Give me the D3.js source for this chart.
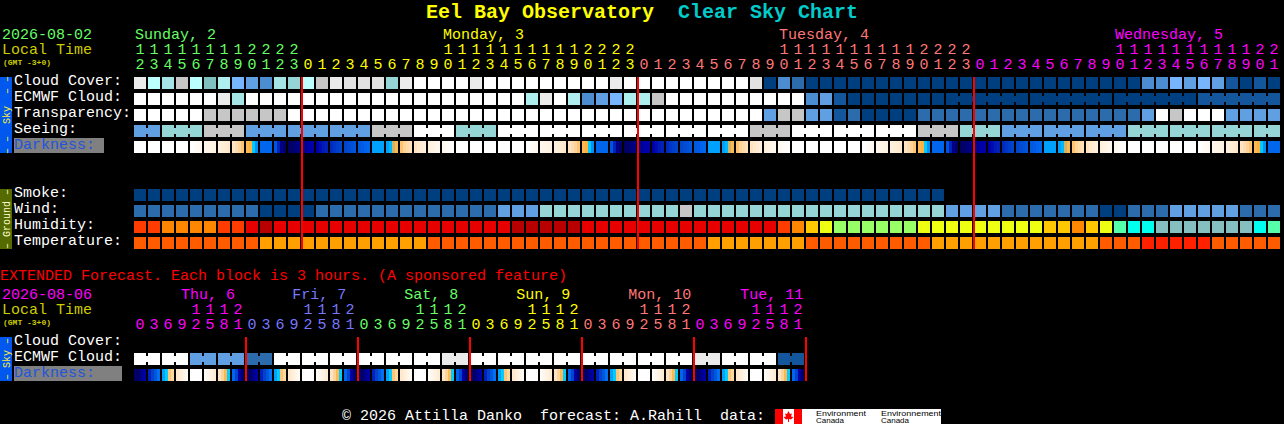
<!DOCTYPE html>
<html><head><meta charset="utf-8">
<script src="https://cdn.jsdelivr.net/npm/d3@7"></script>
<style>
html,body{margin:0;padding:0;background:#000;overflow:hidden}
svg{display:block}
text{white-space:pre;font-family:"Liberation Mono",monospace}
rect{shape-rendering:crispEdges}
</style></head><body>
<script>
// ---- forecast values (index into the colour ranges below) ----
const cloudCover=[13,10,8,11,10,6,9,5,4,3,8,7,10,11,13,12,12,12,7,13,14,14,14,14,13,14,14,14,14,14,14,14,14,14,13,14,14,14,14,14,14,14,14,14,12,0,3,2,0,0,0,0,0,0,0,0,0,0,0,0,0,0,0,0,0,0,0,0,0,0,0,0,3,3,5,4,5,4,1,0,1,0];
const ecmwfCloud=[14,14,14,14,14,14,13,8,14,14,14,14,14,14,14,14,14,14,14,14,14,14,14,14,14,14,14,14,9,13,14,9,3,4,5,9,9,11,14,14,14,14,14,14,14,14,14,14,3,4,1,0,0,0,0,0,0,0,0,0,0,0,0,0,0,0,0,0,0,0,0,0,0,0,0,0,1,1,1,1,1,1];
const transparency=[14,14,14,14,14,11,11,11,11,11,11,14,14,14,14,14,14,14,14,14,14,14,14,14,14,14,14,14,14,14,14,14,14,14,14,14,14,14,14,14,14,14,14,14,14,4,11,11,4,4,1,2,0,0,0,0,2,2,2,2,2,2,2,2,2,2,2,2,2,2,2,2,4,14,11,14,14,14,4,4,4,4];
const seeing=[4,4,7,7,7,11,11,11,4,4,4,4,4,4,4,4,4,11,11,11,14,14,14,7,7,7,14,14,14,14,14,14,14,14,14,14,14,14,14,14,14,14,14,14,11,11,11,14,14,14,14,14,14,14,14,14,11,11,11,7,7,7,4,4,4,4,4,4,4,4,4,7,7,7,7,7,7,7,7,7,7,7];
const smoke=[0,0,0,0,0,0,0,0,0,0,0,0,0,0,0,0,0,0,0,0,0,0,0,0,0,0,0,0,0,0,0,0,0,0,0,0,0,0,0,0,0,0,0,0,0,0,0,0,0,0,0,0,0,0,0,0,0,0];
const wind=[2,2,2,2,2,2,2,2,2,0,0,0,0,2,2,2,2,2,2,2,2,2,2,2,2,2,4,4,4,7,7,7,7,7,7,7,7,7,7,11,7,7,7,7,7,7,7,7,7,7,7,7,7,7,7,7,7,7,4,4,4,4,2,2,2,2,2,2,2,0,0,2,2,2,4,4,4,4,4,2,2,2];
const humidity=[2,2,3,3,3,3,2,2,1,0,1,1,1,1,1,1,1,1,1,1,1,1,1,1,1,1,1,0,0,0,0,0,1,1,1,1,1,1,1,1,1,1,1,1,1,1,2,3,4,5,6,6,6,6,6,6,5,5,5,5,5,5,5,5,5,4,4,3,4,5,7,8,8,9,9,9,9,9,9,9,8,7];
const temperature=[1,1,1,1,1,1,1,1,1,2,2,2,2,2,2,2,2,2,2,2,2,1,1,1,1,1,1,1,1,1,1,1,1,1,1,1,1,1,1,1,1,2,2,2,2,2,2,2,1,1,1,1,1,1,1,1,1,2,2,2,2,2,2,2,2,2,2,2,2,1,1,1,0,0,0,0,0,1,1,1,1,1];
const darknessDay0=[[0,0,0,0],[0,0,0,0],[0,0,0,0],[0,0,0,0],
[0,.2,.4,.6],[.7,.9,1,1.2],[1.3,1.5,1.7,2],[2.2,2.6,3,3.4],[3.8,4,5,6.3],[7,7,7,7],[7.5,8.5,9.5,10],[10,10,9.7,9.5],[9.5,9.3,9,9],[9,8.8,8.6,8.5],[8.4,8.2,8.1,8],[8,7.8,7.7,7.5],[7.4,7.3,7.1,7],[6,6,6,6],[6,5.5,4.2,3.8],[3.5,3,2.7,2.4],[2.2,2,1.7,1.5],[1.3,1.1,.9,.7],[.6,.4,.2,.1],[0,0,0,0],[0,0,0,0],[0,0,0,0],[0,0,0,0],[0,0,0,0]];
const darknessDay1=[[0,.2,.4,.6],[.7,.9,1,1.2],[1.3,1.5,1.7,2],[2.2,2.6,3,3.4],[3.8,4,5,6.3],[7,7,7,7],[7.5,8.5,9.5,10],[10,10,9.7,9.5],[9.5,9.3,9,9],[9,8.8,8.6,8.5],[8.4,8.2,8.1,8],[8,7.8,7.7,7.5],[7.4,7.3,7.1,7],[6,6,6,6],[6,5.5,4.2,3.8],[3.5,3,2.7,2.4],[2.2,2,1.7,1.5],[1.3,1.1,.9,.7],[.6,.4,.2,.1],[0,0,0,0],[0,0,0,0],[0,0,0,0],[0,0,0,0],[0,0,0,0]];
const darknessDay2=[[0,.2,.4,.6],[.7,.9,1,1.2],[1.3,1.5,1.7,2],[2.2,2.6,3,3.4],[3.8,4,5,6.3],[7,7,7,7],[7.5,8.5,9.5,10],[10,10,9.7,9.5],[9.5,9.3,9,9],[9,8.8,8.6,8.5],[8.4,8.2,8.1,8],[8,7.8,7.7,7.5],[7.4,7.3,7.1,7],[6,6,6,6],[6,5.5,4.2,3.8],[3.5,3,2.7,2.4],[2.2,2,1.7,1.5],[1.3,1.1,.9,.7],[.6,.4,.2,.1],[0,0,0,0],[0,0,0,0],[0,0,0,0],[0,0,0,0],[0,0,0,0]];
const darknessDay3=[[0,.2,.4,.6],[.7,.9,1,1.2],[1.3,1.5,1.7,2],[2.2,2.6,3,3.4],[3.8,4,5,6.3],[7,7,7,7]];
const extCloud=[14,14,14,14,4,4,4,4,2,2,14,14,14,14,14,14,14,14,14,14,14,14,13,13,14,14,14,14,14,14,14,14,14,14,14,14,14,14,14,14,13,13,14,14,14,14,1,1];
const extDarkness=[
[10,10,9.5,9],[8.5,8,7.5,6.8],[6,5,3.4,2.8],[2,1.5,1,.5],[0,0,0,0],[.3,.8,1.2,1.7],[2.2,3,3.8,5],[7,8,9,10],
[10,10,9.5,9],[8.5,8,7.5,6.8],[6,5,3.4,2.8],[2,1.5,1,.5],[0,0,0,0],[.3,.8,1.2,1.7],[2.2,3,3.8,5],[7,8,9,10],
[10,10,9.5,9],[8.5,8,7.5,6.8],[6,5,3.4,2.8],[2,1.5,1,.5],[0,0,0,0],[.3,.8,1.2,1.7],[2.2,3,3.8,5],[7,8,9,10],
[10,10,9.5,9],[8.5,8,7.5,6.8],[6,5,3.4,2.8],[2,1.5,1,.5],[0,0,0,0],[.3,.8,1.2,1.7],[2.2,3,3.8,5],[7,8,9,10],
[10,10,9.5,9],[8.5,8,7.5,6.8],[6,5,3.4,2.8],[2,1.5,1,.5],[0,0,0,0],[.3,.8,1.2,1.7],[2.2,3,3.8,5],[7,8,9,10],
[10,10,9.5,9],[8.5,8,7.5,6.8],[6,5,3.4,2.8],[2,1.5,1,.5],[0,0,0,0],[.3,.8,1.2,1.7],[2.2,3,3.8,5],[7,8,9,10]];
// ---- tick labels ----
const hours=[12,13,14,15,16,17,18,19,20,21,22,23,0,1,2,3,4,5,6,7,8,9,10,11,12,13,14,15,16,17,18,19,20,21,22,23,0,1,2,3,4,5,6,7,8,9,10,11,12,13,14,15,16,17,18,19,20,21,22,23,0,1,2,3,4,5,6,7,8,9,10,11,12,13,14,15,16,17,18,19,20,21];
const extHours=[0,3,6,9,12,15,18,21,0,3,6,9,12,15,18,21,0,3,6,9,12,15,18,21,0,3,6,9,12,15,18,21,0,3,6,9,12,15,18,21,0,3,6,9,12,15,18,21];
const dayNames=["Sunday, 2","Monday, 3","Tuesday, 4","Wednesday, 5"];
const dayAnchors=[0,22,46,70];
const dayStarts=[12,36,60];
const extDayNames=["Thu, 6","Fri, 7","Sat, 8","Sun, 9","Mon, 10","Tue, 11"];
const extDayAnchors=[3.36,11.3,19.3,27.3,35.3,43.3];
const extDayStarts=[8,16,24,32,40];
const skyRows=["Cloud Cover:","ECMWF Cloud:","Transparency:","Seeing:","Darkness:"];
const groundRows=["Smoke:","Wind:","Humidity:","Temperature:"];
const extRows=["Cloud Cover:","ECMWF Cloud:","Darkness:"];
// ---- styles ----
const cloudColors=["#003f7f","#13569b","#2c6cad","#4c8cd0","#5f9fe2","#77b5fe","#7fbfbf","#95d5d5","#a5e5e5","#afeeee","#bbffff","#c6c6c6","#e2e2e2","#ebebeb","#ffffff"];
const humidityColors=["#b80000","#e60000","#ff3c00","#ff8600","#ffc800","#eeff11","#99ff66","#55ffaa","#00ffee","#85bfbf"];
const tempColors=["#ff2000","#ff5c00","#ffa000"];
const darkColors=["#ffffff","#fff4e6","#ffe8cc","#ffd399","#ffb040","#00ccff","#00a0ff","#0066ee","#0044cc","#0000aa","#000066"];
const dayColors=["#66ff66","#ffff00","#ff7777","#ff00ff"];
const extDayColors=["#ff00ff","#7777ff","#66ff66","#ffff00","#ff7777","#ff00ff"];

const W=1284,H=424;
const svg=d3.select("body").append("svg").attr("width",W).attr("height",H).attr("viewBox",[0,0,W,H]);
const x=d3.scaleBand().domain(d3.range(82)).range([134,134+14*82-2]).paddingInner(2/14);
const cell=x.bandwidth();
const band=(rows,top)=>d3.scaleBand().domain(rows).range([top,top+16*rows.length-4]).paddingInner(4/16);
const ySky=band(skyRows,77),yGround=band(groundRows,189),yExt=band(extRows,337);
const cloudC=d3.scaleOrdinal(d3.range(15),cloudColors);
const humC=d3.scaleOrdinal(d3.range(10),humidityColors);
const tempC=d3.scaleOrdinal(d3.range(3),tempColors);
const darkC=d3.scaleLinear().domain(d3.range(11)).range(darkColors).clamp(true);
const sub=d3.scaleBand().domain([0,1,2,3]).range([0,cell]);

function txt(t,px,py,size,fill,weight){
  return svg.append("text").attr("x",px).attr("y",py).attr("font-size",size).attr("fill",fill)
    .attr("font-weight",weight||"normal").text(t);
}
function row(vals,top,color,joined){
  const g=svg.append("g");
  g.selectAll("rect.c").data(vals).join("rect").attr("class","c")
    .attr("x",(d,i)=>x(i)).attr("y",top).attr("width",cell).attr("height",cell).attr("fill",d=>color(d));
  if(joined) g.selectAll("rect.j").data(vals.map((d,i)=>({d,i})).filter(o=>joined(o.i)&&o.i<vals.length-1)).join("rect").attr("class","j")
    .attr("x",o=>x(o.i)+cell).attr("y",top+3).attr("width",x.step()-cell).attr("height",6).attr("fill",o=>color(o.d));
}
function gradRow(vals,top){
  const g=svg.append("g");
  vals.forEach((c,i)=>{
    g.selectAll(null).data(c).join("rect").attr("x",(d,j)=>x(i)+sub(j)).attr("y",top)
      .attr("width",sub.bandwidth()).attr("height",cell).attr("fill",d=>darkC(d));
  });
}
function labels(rows,y,boxRight){
  rows.forEach(r=>{
    const base=y(r)+8;
    if(r==="Darkness:"){
      svg.append("rect").attr("x",14).attr("y",y(r)-3).attr("width",boxRight-14).attr("height",15).attr("fill","#808080");
      txt(r,14,base,15,"#2255dd");
    } else txt(r,14,base,15,"#ffffff");
  });
}
function side(y0,h,fill,label,color){
  svg.append("rect").attr("x",0).attr("y",y0).attr("width",12).attr("height",h).attr("fill",fill);
  svg.append("text").attr("transform",`translate(9.5,${y0+h/2}) rotate(-90)`).attr("text-anchor","middle")
    .attr("font-size",10).attr("fill",color).text(label);
}
function hourAxis(hs,starts,colors,yTens,yOnes){
  const colr=i=>colors[d3.bisectRight(starts,i)];
  svg.append("g").selectAll("text").data(hs).join("text").attr("x",(d,i)=>x(i)+cell/2).attr("y",yOnes)
    .attr("text-anchor","middle").attr("font-size",15).attr("fill",(d,i)=>colr(i)).text(d=>d%10);
  svg.append("g").selectAll("text").data(hs.map((d,i)=>({d,i})).filter(o=>o.d>=10)).join("text")
    .attr("x",o=>x(o.i)+cell/2).attr("y",yTens).attr("text-anchor","middle").attr("font-size",15)
    .attr("fill",o=>colr(o.i)).text(o=>Math.floor(o.d/10));
}
function redLines(idx,y0,y1){
  svg.append("g").selectAll("rect").data(idx).join("rect").attr("x",i=>x(i)-1).attr("y",y0)
    .attr("width",2).attr("height",y1-y0).attr("fill","#ff0000");
}

// title
txt("Eel Bay Observatory",426,18,20,"#ffff00","bold");
txt("Clear Sky Chart",678,18,20,"#00cccc","bold");
// main header
txt("2026-08-02",2,39,15,"#66ff66");
txt("Local Time",2,54,15,"#cccc00");
txt("(GMT -3+0)",3,65,8,"#cccc00","bold");
dayNames.forEach((n,k)=>txt(n,x(dayAnchors[k])+1,39,15,dayColors[k]));
hourAxis(hours,dayStarts,dayColors,54,69);
// main rows
labels(skyRows,ySky,104); labels(groundRows,yGround);
side(77,76,"#0058ee","\u2013 \u2013  Sky  \u2013 \u2013","#ffee33");
side(189,60,"#556b00","\u2013 Ground \u2013","#ffffcc");
row(cloudCover,ySky("Cloud Cover:"),cloudC);
row(ecmwfCloud,ySky("ECMWF Cloud:"),cloudC,i=>i>=58&&(i-58)%6<5);
row(transparency,ySky("Transparency:"),cloudC);
row(seeing,ySky("Seeing:"),cloudC,i=>(i+1)%3!==2);
gradRow(darknessDay0.concat(darknessDay1,darknessDay2,darknessDay3),ySky("Darkness:"));
row(smoke,yGround("Smoke:"),cloudC);
row(wind,yGround("Wind:"),cloudC);
row(humidity,yGround("Humidity:"),humC);
row(temperature,yGround("Temperature:"),tempC);
redLines(dayStarts,77,249);
// extended
txt("EXTENDED Forecast. Each block is 3 hours. (A sponsored feature)",0,280,15,"#ff0000");
txt("2026-08-06",2,299,15,"#ff00ff");
txt("Local Time",2,314,15,"#cccc00");
txt("(GMT -3+0)",3,325,8,"#cccc00","bold");
extDayNames.forEach((n,k)=>txt(n,134+14*extDayAnchors[k],299,15,extDayColors[k]));
hourAxis(extHours,extDayStarts,extDayColors,314,329);
labels(extRows,yExt,122);
side(337,44,"#0058ee","\u2013 Sky \u2013","#ffee33");
row(extCloud,yExt("ECMWF Cloud:"),cloudC,i=>i%2===0);
gradRow(extDarkness,yExt("Darkness:"));
redLines([8,16,24,32,40,48],337,381);
// footer
txt("\u00a9 2026 Attilla Danko  forecast: A.Rahill  data:",342,420,15,"#ffffff");
const logo=svg.append("g").attr("transform","translate(775,409)");
logo.append("rect").attr("width",166).attr("height",15).attr("fill","#ffffff");
logo.append("rect").attr("width",8).attr("height",15).attr("fill","#ff0000");
logo.append("rect").attr("x",19).attr("width",8).attr("height",15).attr("fill","#ff0000");
logo.append("polygon").attr("points","13.5,2 15,5 17,4.5 16,7.5 18.5,8 16,10.5 14,10 14,13 13,13 13,10 11,10.5 8.5,8 11,7.5 10,4.5 12,5").attr("fill","#ff0000");
[["Environment",41,7,50],["Environnement",106,7,60],["Canada",41,14,28],["Canada",106,14,28]].forEach(d=>
  logo.append("text").attr("x",d[1]).attr("y",d[2]).attr("font-size",7).attr("fill","#000")
    .attr("textLength",d[3]).attr("lengthAdjust","spacingAndGlyphs").style("font-family","Liberation Sans").text(d[0]));
</script></body></html>
